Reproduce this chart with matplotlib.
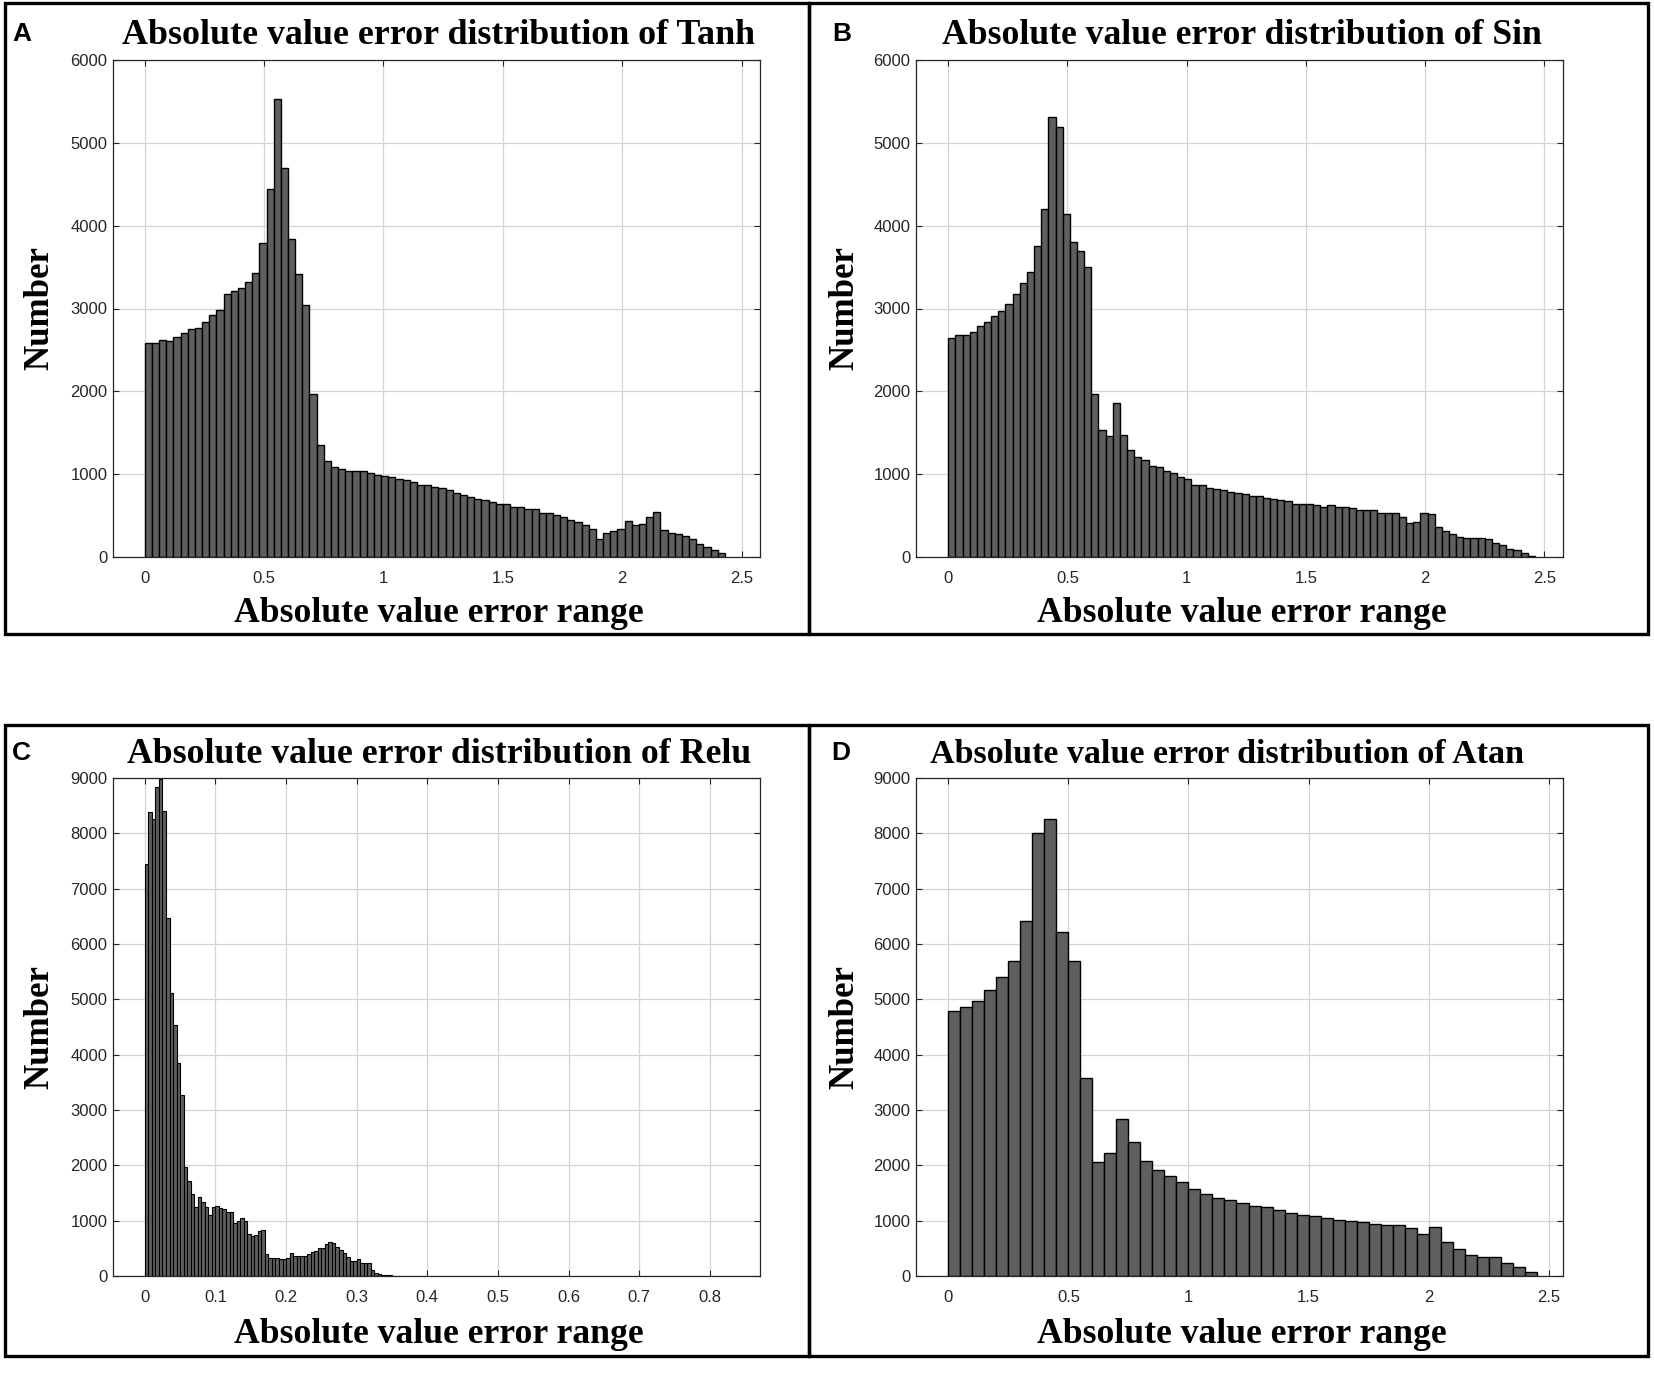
import numpy as np
import matplotlib
matplotlib.use("Agg")
import matplotlib.pyplot as plt
from matplotlib.patches import Rectangle

# ---------------- data ----------------
tanh_bin_width = 0.03
tanh_counts = [2585, 2585, 2625, 2605, 2660, 2700, 2750, 2770, 2835, 2925,
               2980, 3175, 3215, 3245, 3320, 3430, 3785, 4445, 5535, 4700,
               3835, 3415, 3045, 1965, 1355, 1160, 1090, 1060, 1035, 1035,
               1035, 1015, 995, 980, 960, 942, 925, 900, 868, 868,
               849, 829, 809, 777, 745, 725, 705, 685, 665, 637,
               637, 598, 598, 578, 578, 530, 526, 506, 486, 446,
               426, 386, 339, 218, 290, 312, 344, 435, 381, 399,
               483, 541, 324, 294, 276, 256, 212, 156, 124, 84, 52]

sin_bin_width = 0.03
sin_counts = [2647, 2679, 2679, 2719, 2791, 2839, 2912, 2964, 3056, 3181,
              3305, 3446, 3755, 4205, 5313, 5193, 4141, 3807, 3695, 3506,
              1968, 1534, 1458, 1859, 1478, 1297, 1213, 1177, 1104, 1088,
              1040, 1016, 960, 940, 871, 871, 839, 823, 803, 790,
              774, 757, 741, 741, 713, 701, 685, 673, 637, 637,
              637, 622, 606, 622, 606, 606, 586, 566, 566, 566,
              534, 534, 534, 478, 406, 426, 534, 514, 359, 315,
              279, 247, 227, 227, 227, 215, 175, 143, 100, 88, 48, 10]

relu_bin_width = 0.005
relu_counts = [7440, 8392, 8253, 8831, 8990, 8410, 6476, 5108, 4536, 3855,
               3271, 1976, 1723, 1482, 1241, 1434, 1343, 1241, 1100, 1250,
               1265, 1223, 1205, 1163, 1163, 952, 1000, 1055, 995, 762,
               726, 735, 815, 835, 400, 325, 320, 320, 305, 310,
               320, 410, 365, 365, 365, 370, 390, 425, 455, 505,
               515, 580, 615, 595, 530, 470, 420, 350, 275, 270,
               300, 235, 230, 228, 115, 55, 40, 25, 18, 12, 6]

atan_bin_width = 0.05
atan_counts = [4789, 4867, 4976, 5169, 5398, 5699, 6422, 8012, 8253, 6211,
               5699, 3572, 2066, 2229, 2831, 2428, 2078, 1916, 1807, 1693,
               1566, 1476, 1416, 1373, 1320, 1269, 1239, 1184, 1136, 1106,
               1076, 1045, 1015, 985, 967, 937, 918, 918, 864, 755,
               894, 622, 483, 387, 338, 338, 242, 163, 79]

panel_letters = ["A", "B", "C", "D"]
titles = ["Absolute value error distribution of Tanh",
          "Absolute value error distribution of Sin",
          "Absolute value error distribution of Relu",
          "Absolute value error distribution of Atan"]
xlabel_text = "Absolute value error range"
ylabel_text = "Number"
xticks_wide = [0, 0.5, 1, 1.5, 2, 2.5]
xticklabels_wide = ["0", "0.5", "1", "1.5", "2", "2.5"]
xticks_relu = [0, 0.1, 0.2, 0.3, 0.4, 0.5, 0.6, 0.7, 0.8]
xticklabels_relu = ["0", "0.1", "0.2", "0.3", "0.4", "0.5", "0.6", "0.7", "0.8"]
yticks_6000 = [0, 1000, 2000, 3000, 4000, 5000, 6000]
yticks_9000 = [0, 1000, 2000, 3000, 4000, 5000, 6000, 7000, 8000, 9000]

# ---------------- figure ----------------
W, H = 1654, 1378
fig = plt.figure(figsize=(W / 100, H / 100), dpi=100)
fig.patch.set_facecolor("white")

SERIF = ["Liberation Serif", "DejaVu Serif"]
SANS = ["Liberation Sans", "DejaVu Sans"]
TICK_COLOR = "#262626"


def fx(px):
    return px / W


def fy(py):
    return 1 - py / H


renderer = fig.canvas.get_renderer()


def fit_text(x, y, s, target_w, ha="center", va="baseline", rotation=0,
             family=SERIF, weight="bold", size0=20):
    t = fig.text(fx(x), fy(y), s, ha=ha, va=va, rotation=rotation,
                 family=family, weight=weight, fontsize=size0, color="black")
    bb = t.get_window_extent(renderer=renderer)
    cur = bb.height if rotation == 90 else bb.width
    t.set_fontsize(size0 * target_w / cur)
    return t


panels = [
    dict(counts=tanh_counts, bw=tanh_bin_width, xlim=(-0.133, 2.577),
         xt=xticks_wide, xtl=xticklabels_wide, ylim=(0, 6000), yt=yticks_6000,
         ax_px=(113, 60, 760, 557), box=(5, 3, 809, 634),
         title_c=438, title_w=631, title_base=44,
         xl_c=439, xl_w=410, xl_base=622, yl_x=40, yl_w=124,
         letter=(12, 22)),
    dict(counts=sin_counts, bw=sin_bin_width, xlim=(-0.135, 2.578),
         xt=xticks_wide, xtl=xticklabels_wide, ylim=(0, 6000), yt=yticks_6000,
         ax_px=(916, 60, 1563, 557), box=(809, 3, 1648, 634),
         title_c=1242, title_w=600, title_base=44,
         xl_c=1242, xl_w=410, xl_base=622, yl_x=845, yl_w=124,
         letter=(832, 22)),
    dict(counts=relu_counts, bw=relu_bin_width, xlim=(-0.045, 0.871),
         xt=xticks_relu, xtl=xticklabels_relu, ylim=(0, 9000), yt=yticks_9000,
         ax_px=(113, 778, 760, 1276), box=(5, 725, 809, 1356),
         title_c=439, title_w=624, title_base=763,
         xl_c=439, xl_w=410, xl_base=1343, yl_x=40, yl_w=124,
         letter=(12, 741)),
    dict(counts=atan_counts, bw=atan_bin_width, xlim=(-0.135, 2.56),
         xt=xticks_wide, xtl=xticklabels_wide, ylim=(0, 9000), yt=yticks_9000,
         ax_px=(916, 778, 1563, 1276), box=(809, 725, 1648, 1356),
         title_c=1227, title_w=596, title_base=763,
         xl_c=1242, xl_w=410, xl_base=1343, yl_x=845, yl_w=124,
         letter=(831, 741)),
]

for i, p in enumerate(panels):
    l, t, r, b = p["ax_px"]
    ax = fig.add_axes([fx(l), fy(b), (r - l) / W, (b - t) / H])
    counts = np.asarray(p["counts"], dtype=float)
    edges = np.arange(len(counts) + 1) * p["bw"]
    ax.hist(edges[:-1], bins=edges, weights=counts, histtype="bar",
            color="#5f5f5f", edgecolor="black",
            linewidth=0.8 if p["bw"] < 0.01 else 1.0, zorder=2)
    ax.set_xlim(*p["xlim"])
    ax.set_ylim(*p["ylim"])
    ax.set_xticks(p["xt"])
    ax.set_xticklabels(p["xtl"])
    ax.set_yticks(p["yt"])
    ax.set_yticklabels([str(v) for v in p["yt"]])
    ax.grid(True, color="#d4d4d4", linewidth=0.9, zorder=0)
    ax.set_axisbelow(True)
    ax.tick_params(direction="in", length=4, width=0.8, top=True, right=True,
                   colors=TICK_COLOR, labelsize=12)
    ax.tick_params(axis="x", pad=10)
    ax.tick_params(axis="y", pad=4)
    for lab in ax.get_xticklabels() + ax.get_yticklabels():
        lab.set_family(SANS)
    for sp in ax.spines.values():
        sp.set_color(TICK_COLOR)
        sp.set_linewidth(0.9)

    # outer panel box
    bx0, by0, bx1, by1 = p["box"]
    fig.patches.append(Rectangle((fx(bx0), fy(by1)), (bx1 - bx0) / W, (by1 - by0) / H,
                                 transform=fig.transFigure, fill=False,
                                 edgecolor="black", linewidth=2.4, zorder=10))

    fit_text(p["title_c"], p["title_base"], titles[i], p["title_w"])
    fit_text(p["xl_c"], p["xl_base"], xlabel_text, p["xl_w"])
    fit_text(p["yl_x"], (t + b) / 2, ylabel_text, p["yl_w"], va="center",
             ha="center", rotation=90)
    lx, ly = p["letter"]
    fig.text(fx(lx), fy(ly), panel_letters[i], ha="left", va="top",
             family=SANS, weight="bold", fontsize=19, color="black")

fig.savefig("out.png", dpi=100, facecolor="white")
